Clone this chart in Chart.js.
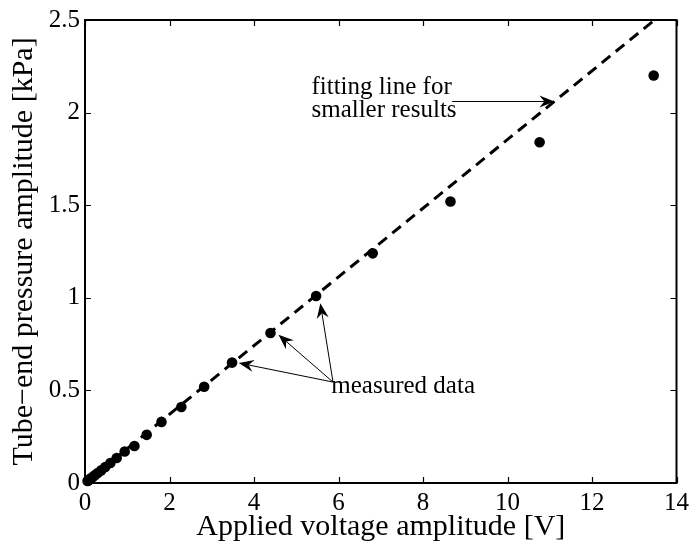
<!DOCTYPE html>
<html>
<head>
<meta charset="utf-8">
<script src="https://cdn.jsdelivr.net/npm/chart.js@4.4.1/dist/chart.umd.min.js"></script>
<style>
  html, body { margin: 0; padding: 0; background: #fff; }
  #wrap { width: 694px; height: 546px; }
</style>
</head>
<body>
<div id="wrap"><canvas id="chart" width="694" height="546"></canvas></div>
<script>
// measured points
const voltage = [0.06, 0.08, 0.1, 0.12, 0.15, 0.19, 0.24, 0.3, 0.38, 0.48, 0.6, 0.75, 0.94, 1.17, 1.46, 1.81, 2.28, 2.82, 3.48, 4.39, 5.47, 6.81, 8.65, 10.76, 13.46];
const pressure = [0.011, 0.014, 0.018, 0.022, 0.027, 0.034, 0.043, 0.054, 0.068, 0.086, 0.108, 0.135, 0.17, 0.2, 0.26, 0.33, 0.41, 0.52, 0.65, 0.81, 1.01, 1.24, 1.52, 1.84, 2.2];

// fitting line (through origin)
const fitX = [0, 13.48];
const fitY = [0, 2.5];

const xTicks = [0, 2, 4, 6, 8, 10, 12, 14];
const yTicks = [0, 0.5, 1, 1.5, 2, 2.5];
const yTickLabels = ["0", "0.5", "1", "1.5", "2", "2.5"];

// annotation texts + where they sit (data units, baseline)
const fitLines = ["fitting line for", "smaller results"];
const fitLinesX = 5.36;
const fitLinesY = [2.098, 1.975];
const fitArrowFrom = [8.69, 2.06];
const fitArrowTo = [11.11, 2.06];

const measText = "measured data";
const measTextAt = [5.83, 0.484];
const measArrowFrom = [5.87, 0.545];
const measArrowTo = [[3.64, 0.648], [4.58, 0.80], [5.57, 0.97]];

const serif = "'Liberation Serif', 'Times New Roman', serif";

function arrow(ctx, x1, y1, x2, y2) {
  const ang = Math.atan2(y2 - y1, x2 - x1);
  const len = 15, half = 6, notch = 10;
  ctx.beginPath();
  ctx.moveTo(x1, y1);
  ctx.lineTo(x2 - Math.cos(ang) * notch, y2 - Math.sin(ang) * notch);
  ctx.lineWidth = 1;
  ctx.stroke();
  ctx.save();
  ctx.translate(x2, y2);
  ctx.rotate(ang);
  ctx.beginPath();
  ctx.moveTo(0, 0);
  ctx.lineTo(-len, -half);
  ctx.lineTo(-notch, 0);
  ctx.lineTo(-len, half);
  ctx.closePath();
  ctx.fill();
  ctx.restore();
}

// box + inward ticks (matlab look)
const frameBox = {
  id: "frameBox",
  beforeDatasetsDraw(chart) {
    const { ctx, chartArea: a, scales: { x, y } } = chart;
    ctx.save();
    ctx.strokeStyle = "#000";
    ctx.lineWidth = 1.2;
    ctx.beginPath();
    xTicks.forEach((v) => {
      const px = Math.round(x.getPixelForValue(v)) + 0.5;
      ctx.moveTo(px, a.bottom); ctx.lineTo(px, a.bottom - 6);
      ctx.moveTo(px, a.top); ctx.lineTo(px, a.top + 6);
    });
    yTicks.forEach((v) => {
      const py = Math.round(y.getPixelForValue(v)) + 0.5;
      ctx.moveTo(a.left, py); ctx.lineTo(a.left + 6, py);
      ctx.moveTo(a.right, py); ctx.lineTo(a.right - 6, py);
    });
    ctx.stroke();
    ctx.lineWidth = 2;
    ctx.strokeRect(a.left, a.top, a.right - a.left, a.bottom - a.top);
    ctx.restore();
  },
};

const notes = {
  id: "notes",
  afterDatasetsDraw(chart) {
    const { ctx, scales: { x, y } } = chart;
    ctx.save();
    ctx.fillStyle = "#000";
    ctx.strokeStyle = "#000";
    ctx.font = "25px " + serif;
    ctx.textBaseline = "alphabetic";
    ctx.textAlign = "left";
    fitLines.forEach((t, i) => {
      ctx.fillText(t, x.getPixelForValue(fitLinesX), y.getPixelForValue(fitLinesY[i]));
    });
    ctx.fillText(measText, x.getPixelForValue(measTextAt[0]), y.getPixelForValue(measTextAt[1]));

    arrow(ctx,
      x.getPixelForValue(fitArrowFrom[0]), y.getPixelForValue(fitArrowFrom[1]),
      x.getPixelForValue(fitArrowTo[0]), y.getPixelForValue(fitArrowTo[1]));
    measArrowTo.forEach((p) => {
      arrow(ctx,
        x.getPixelForValue(measArrowFrom[0]), y.getPixelForValue(measArrowFrom[1]),
        x.getPixelForValue(p[0]), y.getPixelForValue(p[1]));
    });
    ctx.restore();
  },
};

const measured = voltage.map((v, i) => ({ x: v, y: pressure[i] }));
const fitLine = fitX.map((v, i) => ({ x: v, y: fitY[i] }));

new Chart(document.getElementById("chart"), {
  type: "scatter",
  data: {
    datasets: [
      {
        label: "fit",
        data: fitLine,
        showLine: true,
        borderColor: "#000",
        borderWidth: 3,
        borderDash: [11, 7],
        pointRadius: 0,
        clip: false,
      },
      {
        label: "measured",
        data: measured,
        pointRadius: 5.3,
        pointBackgroundColor: "#000",
        pointBorderColor: "#000",
        pointBorderWidth: 0,
        clip: false,
      },
    ],
  },
  options: {
    responsive: false,
    animation: false,
    devicePixelRatio: 1,
    layout: { padding: { top: 16, right: 13, left: 0, bottom: 0 } },
    plugins: { legend: { display: false }, tooltip: { enabled: false } },
    scales: {
      x: {
        type: "linear",
        min: 0,
        max: 14,
        afterFit: (s) => { s.height = 63; },
        afterBuildTicks: (s) => { s.ticks = xTicks.map((v) => ({ value: v })); },
        grid: { display: false, drawTicks: false },
        border: { display: false },
        ticks: { color: "#000", padding: 5, maxRotation: 0, font: { family: serif, size: 25 } },
        title: {
          display: true,
          text: "Applied voltage amplitude [V]",
          color: "#000",
          font: { family: serif, size: 30 },
          padding: { top: 0, bottom: 1 },
        },
      },
      y: {
        type: "linear",
        min: 0,
        max: 2.5,
        afterFit: (s) => { s.width = 85; },
        afterBuildTicks: (s) => { s.ticks = yTicks.map((v) => ({ value: v })); },
        grid: { display: false, drawTicks: false },
        border: { display: false },
        ticks: {
          color: "#000",
          padding: 5,
          font: { family: serif, size: 25 },
          callback: (v) => yTickLabels[yTicks.indexOf(v)] ?? String(v),
        },
        title: {
          display: true,
          text: "Tube\u2212end pressure amplitude [kPa]",
          color: "#000",
          font: { family: serif, size: 30 },
          padding: { top: 6, bottom: 0 },
        },
      },
    },
  },
  plugins: [frameBox, notes],
});
</script>
</body>
</html>
